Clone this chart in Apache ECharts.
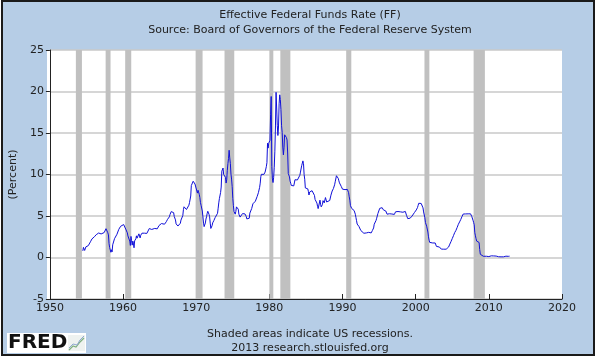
<!DOCTYPE html>
<html>
<head>
<meta charset="utf-8">
<script src="https://cdn.jsdelivr.net/npm/echarts@6/dist/echarts.min.js"></script>
<style>
html,body{margin:0;padding:0;background:#ffffff;}
#chart{width:597px;height:362px;}
</style>
</head>
<body>
<div id="chart"></div>
<script>
// Monthly effective federal funds rate (percent), starting July 1954
var startYear = 1954, startMonth = 7;
var rates1950s = [0.80,1.22,1.06,0.85,0.83,1.28,
  1.39,1.29,1.35,1.43,1.43,1.64,1.68,1.96,2.18,2.24,2.35,2.48,
  2.45,2.50,2.50,2.62,2.75,2.71,2.75,2.73,2.95,2.96,2.88,2.94,
  2.84,3.00,2.96,3.00,3.00,3.00,2.99,3.24,3.47,3.50,3.28,2.98,
  2.72,1.67,1.20,1.26,0.63,0.93,0.68,1.53,1.76,1.80,2.27,2.42,
  2.48,2.43,2.80,2.96,2.90,3.39,3.47,3.50,3.76,3.98,4.00,3.99];
var rates1960s = [3.99,3.97,3.84,3.92,3.85,3.32,3.23,2.98,2.60,2.47,2.44,1.98,
  1.45,2.54,2.02,1.49,1.98,1.73,1.17,2.00,1.88,2.26,2.61,2.33,
  2.15,2.37,2.85,2.78,2.36,2.68,2.71,2.93,2.90,2.90,2.94,2.93,
  2.92,3.00,2.98,2.90,3.00,2.99,3.02,3.49,3.48,3.50,3.48,3.38,
  3.48,3.48,3.43,3.47,3.50,3.50,3.42,3.50,3.45,3.36,3.52,3.85,
  3.90,3.98,4.04,4.09,4.10,4.04,4.09,4.12,4.01,4.08,4.10,4.32,
  4.42,4.60,4.65,4.67,4.90,5.17,5.30,5.53,5.40,5.53,5.76,5.40,
  4.94,5.00,4.53,4.05,3.94,3.98,3.79,3.90,3.99,3.88,4.13,4.51,
  4.61,4.71,5.05,5.76,6.11,6.07,6.02,6.03,5.78,5.91,5.82,6.02,
  6.30,6.61,6.79,7.41,8.67,8.90,8.61,9.19,9.15,9.00,8.85,8.97];
var rates1970s = [8.98,8.98,7.76,8.10,7.95,7.61,7.21,6.61,6.29,6.20,5.60,4.90,
  4.14,3.72,3.71,4.16,4.63,4.91,5.31,5.57,5.55,5.20,4.91,4.14,
  3.50,3.29,3.83,4.17,4.27,4.46,4.55,4.80,4.87,5.04,5.06,5.33,
  5.94,6.58,7.09,7.12,7.84,8.49,10.40,10.50,10.78,10.01,10.03,9.95,
  9.65,8.97,9.35,10.51,11.31,11.93,12.92,12.01,11.34,10.06,9.45,8.53,
  7.13,6.24,5.54,5.49,5.22,5.55,6.10,6.14,6.24,5.82,5.22,5.20,
  4.87,4.77,4.84,4.82,5.29,5.48,5.31,5.29,5.25,5.03,4.95,4.65,
  4.61,4.68,4.69,4.73,5.35,5.39,5.42,5.90,6.14,6.47,6.51,6.56,
  6.70,6.78,6.79,6.89,7.36,7.60,7.81,8.04,8.45,8.96,9.76,10.03,
  10.07,10.06,10.09,10.01,10.24,10.29,10.47,10.94,11.43,13.77,13.18,13.78];
var rates1980s = [13.82,14.13,17.19,19.40,10.98,9.47,9.03,9.61,10.87,12.81,15.85,19.90,
  19.95,15.93,14.70,15.72,18.52,19.60,19.04,17.82,15.87,15.08,13.31,12.37,
  13.22,14.78,14.68,14.94,14.45,14.15,12.59,10.12,10.31,9.71,9.20,8.95,
  8.68,8.51,8.77,8.80,8.63,8.98,9.37,9.56,9.45,9.48,9.34,9.47,
  9.56,9.59,9.91,10.29,10.32,11.06,11.23,11.64,11.30,9.99,9.43,8.38,
  8.35,8.50,8.58,8.27,7.97,7.53,7.88,7.90,7.92,7.99,8.05,8.27,
  8.14,7.86,7.48,6.99,6.85,6.92,6.56,6.17,5.89,5.85,6.04,6.91,
  6.43,6.10,6.13,6.37,6.85,6.73,6.58,6.73,7.22,7.29,6.69,6.77,
  6.83,6.58,6.58,6.87,7.09,7.51,7.75,8.01,8.19,8.30,8.35,8.76,
  9.12,9.36,9.85,9.84,9.81,9.53,9.24,8.99,9.02,8.84,8.55,8.45];
var rates1990s = [8.23,8.24,8.28,8.26,8.18,8.29,8.15,8.13,8.20,8.11,7.81,7.31,
  6.91,6.25,6.12,5.91,5.78,5.90,5.82,5.66,5.45,5.21,4.81,4.43,
  4.03,4.06,3.98,3.73,3.82,3.76,3.25,3.30,3.22,3.10,3.09,2.92,
  3.02,3.03,3.07,2.96,3.00,3.04,3.06,3.03,3.09,2.99,3.02,2.96,
  3.05,3.25,3.34,3.56,4.01,4.25,4.26,4.47,4.73,4.76,5.29,5.45,
  5.53,5.92,5.98,6.05,6.01,6.00,5.85,5.74,5.80,5.76,5.80,5.60,
  5.56,5.22,5.31,5.22,5.24,5.27,5.40,5.22,5.30,5.24,5.31,5.29,
  5.25,5.19,5.39,5.51,5.50,5.56,5.52,5.54,5.54,5.50,5.52,5.50,
  5.56,5.51,5.49,5.45,5.49,5.56,5.54,5.55,5.51,5.07,4.83,4.68,
  4.63,4.76,4.81,4.74,4.74,4.76,4.99,5.07,5.22,5.20,5.42,5.30];
var rates2000s = [5.45,5.73,5.85,6.02,6.27,6.53,6.54,6.50,6.52,6.51,6.51,6.40,
  5.98,5.49,5.31,4.80,4.21,3.97,3.77,3.65,3.07,2.49,2.09,1.82,
  1.73,1.74,1.73,1.75,1.75,1.75,1.73,1.74,1.75,1.75,1.34,1.24,
  1.24,1.26,1.25,1.26,1.26,1.22,1.01,1.03,1.01,1.01,1.00,0.98,
  1.00,1.01,1.00,1.00,1.00,1.03,1.26,1.43,1.61,1.76,1.93,2.16,
  2.28,2.50,2.63,2.79,3.00,3.04,3.26,3.50,3.62,3.78,4.00,4.16,
  4.29,4.49,4.59,4.79,4.94,4.99,5.24,5.25,5.25,5.25,5.25,5.24,
  5.25,5.26,5.26,5.25,5.25,5.25,5.26,5.02,4.94,4.76,4.49,4.24,
  3.94,2.98,2.61,2.28,1.98,2.00,2.01,2.00,1.81,0.97,0.39,0.16,
  0.15,0.22,0.18,0.15,0.18,0.21,0.16,0.16,0.15,0.12,0.12,0.12];
var rates2010s = [0.11,0.13,0.16,0.20,0.20,0.18,0.18,0.19,0.19,0.19,0.19,0.18,
  0.17,0.16,0.14,0.10,0.09,0.09,0.07,0.10,0.08,0.07,0.08,0.07,
  0.08,0.10,0.13,0.14,0.16,0.16,0.16,0.13,0.14,0.16,0.16,0.16];

// US recessions (start, end) in decimal years
var recessionStarts = [1953.55,1957.62,1960.29,1969.92,1973.87,1980.0,1981.5,1990.5,2001.2,2007.92];
var recessionEnds   = [1954.38,1958.29,1961.12,1970.87,1975.2,1980.54,1982.87,1991.2,2001.87,2009.46];

var xTicks = {min:1950, max:2020, step:10};
var yTicks = {min:-5, max:25, step:5};

var allRates = [].concat(rates1950s, rates1960s, rates1970s, rates1980s, rates1990s, rates2000s, rates2010s);
var seriesData = allRates.map(function(v, i){
  return [startYear + (startMonth - 1 + i) / 12, v];
});
var recessionAreas = recessionStarts.map(function(s, i){
  return [{xAxis: s}, {xAxis: recessionEnds[i]}];
});

var font = 'DejaVu Sans';
var chart = echarts.init(document.getElementById('chart'), null, {renderer:'canvas'});
chart.setOption({
  backgroundColor: '#ffffff',
  animation: false,
  title: [{
    text: 'Effective Federal Funds Rate (FF)',
    subtext: 'Source: Board of Governors of the Federal Reserve System',
    left: 305, top: 5, textAlign: 'center', itemGap: 4,
    textStyle: {fontFamily: font, fontSize: 11, fontWeight: 'normal', color: '#222'},
    subtextStyle: {fontFamily: font, fontSize: 11, color: '#222'}
  },{
    text: 'Shaded areas indicate US recessions.',
    subtext: '2013 research.stlouisfed.org',
    left: 305, top: 324, textAlign: 'center', itemGap: 3,
    textStyle: {fontFamily: font, fontSize: 11, fontWeight: 'normal', color: '#222'},
    subtextStyle: {fontFamily: font, fontSize: 11, color: '#222'}
  }],
  graphic: [
    {type:'rect', z:-10, shape:{x:2, y:1, width:592, height:354}, style:{fill:'#b6cde6', stroke:'#1a1a1a', lineWidth:2}},
    {type:'rect', z:-5, shape:{x:47, y:50, width:515, height:249}, style:{fill:'#ffffff'}},
    {type:'rect', shape:{x:7, y:333, width:79, height:20}, style:{fill:'#ffffff'}},
    {type:'text', left:8, top:333, style:{text:'FRED', fill:'#111', font:'bold 20px "DejaVu Sans"'}},
    {type:'rect', shape:{x:68, y:335, width:17, height:16}, style:{fill:'#eef2f0'}},
    {type:'polyline', shape:{points:[[69,350],[73,346],[76,347],[80,342],[84,338]]}, style:{stroke:'#7fb07f', lineWidth:1.2, fill:null}},
    {type:'polyline', shape:{points:[[69,348],[73,344],[77,345],[80,340],[84,336]]}, style:{stroke:'#8fa8cf', lineWidth:1, fill:null}}
  ],
  grid: {left:47, right:35, top:50, bottom:63, containLabel:false},
  xAxis: {
    type: 'value', min: xTicks.min, max: xTicks.max, interval: xTicks.step,
    axisLine: {show:true, onZero:false, lineStyle:{color:'#222', width:1}},
    axisTick: {show:true, inside:true, length:5, lineStyle:{color:'#222'}},
    axisLabel: {fontFamily: font, fontSize: 11, color:'#222', margin:4,
      formatter: function(v){ return String(v); }},
    splitLine: {show:false}
  },
  yAxis: {
    type: 'value', min: yTicks.min, max: yTicks.max, interval: yTicks.step,
    name: '(Percent)', nameLocation: 'middle', nameGap: 25, nameRotate: 90,
    nameTextStyle: {fontFamily: font, fontSize: 11, color:'#222'},
    axisLine: {show:true, onZero:false, lineStyle:{color:'#222', width:1}},
    axisTick: {show:true, inside:false, length:4, lineStyle:{color:'#222'}},
    axisLabel: {fontFamily: font, fontSize: 11, color:'#222', margin:6},
    splitLine: {show:true, lineStyle:{color:'#c8c8c8', width:1.5}}
  },
  series: [{
    type: 'line', name: 'recessions', data: [], z: 1, silent: true,
    markArea: {silent:true, itemStyle:{color:'#c0c0c0', opacity:1}, data: recessionAreas}
  },{
    type: 'line', name: 'FF', data: seriesData, z: 5,
    showSymbol: false, symbol: 'none',
    lineStyle: {color:'#1010d8', width:1}
  }]
});
</script>
</body>
</html>
